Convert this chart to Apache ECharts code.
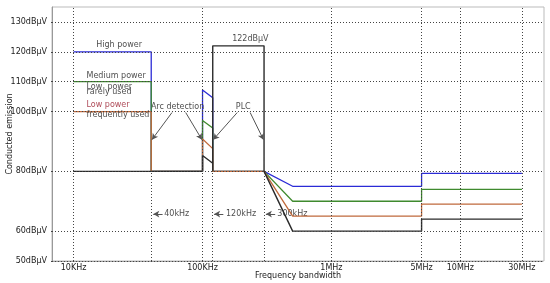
<!DOCTYPE html>
<html>
<head>
<meta charset="utf-8">
<script src="https://cdn.jsdelivr.net/npm/echarts@6/dist/echarts.min.js"></script>
<style>
html, body {margin: 0; padding: 0; background: #fff;}
#container {width: 550px; height: 283px;}
</style>
</head>
<body>
<div id="container"></div>
<script>
// tick values (y in dBuV, x in Hz)
var yTicks = [50, 60, 80, 100, 110, 120, 130];
var xTicks = [1e4, 1e5, 1e6, 5e6, 1e7, 3e7];
var xTickNames = ['10KHz', '100KHz', '1MHz', '5MHz', '10MHz', '30MHz'];
var partialGrid = [4e4, 1.2e5, 3e5];

// limit lines [freq, dBuV]
var highPower = [[1e4, 120], [4e4, 120], [4e4, 80], [1e5, 80], [1e5, 107.2], [1.2e5, 104.6], [1.2e5, 80], [3e5, 80], [5e5, 75], [5e6, 75], [5e6, 79.3], [3e7, 79.3]];
var mediumPower = [[1e4, 110], [4e4, 110], [4e4, 80], [1e5, 80], [1e5, 97], [1.2e5, 94.5], [1.2e5, 80], [3e5, 80], [5e5, 70], [5e6, 70], [5e6, 74], [3e7, 74]];
var lowRare = [[1e4, 100], [4e4, 100], [4e4, 80], [1e5, 80], [1e5, 90.8], [1.2e5, 87.6], [1.2e5, 80], [3e5, 80], [5e5, 65], [5e6, 65], [5e6, 69], [3e7, 69]];
var lowFrequent = [[1e4, 80], [1e5, 80], [1e5, 85.3], [1.2e5, 82.7], [1.2e5, 80], [1.2e5, 122], [3e5, 122], [3e5, 80], [5e5, 60], [5e6, 60], [5e6, 64], [3e7, 64]];

// annotation texts and where they sit
var noteTexts = ['High power', 'Medium power', 'Low  power', 'rarely used', 'Low power', 'frequently used', '122dBμV', 'Arc detection', 'PLC', '40kHz', '120kHz', '300kHz'];
var notePoints = [[15e3, 122.2], [12.6e3, 111.8], [12.6e3, 108.4], [12.6e3, 106.6], [12.6e3, 102.2], [12.6e3, 98.8], [2.35e5, 124.2], [6.4e4, 101.4], [2.07e5, 101.4], [5.05e4, 65.7], [1.52e5, 65.7], [3.8e5, 65.7]];
var noteAlign = ['left', 'left', 'left', 'left', 'left', 'left', 'center', 'center', 'center', 'left', 'left', 'left'];

// arrows [from, to]
var arrows = [
	[[5.8e4, 99.7], [4.05e4, 90.6]],
	[[7.4e4, 99.7], [9.9e4, 90.6]],
	[[1.86e5, 99.7], [1.21e5, 90.6]],
	[[2.34e5, 99.7], [2.97e5, 90.6]],
	[[4.9e4, 65.7], [4.15e4, 65.7]],
	[[1.45e5, 65.7], [1.23e5, 65.7]],
	[[3.66e5, 65.7], [3.1e5, 65.7]]
];

var FONT = 'DejaVu Sans';
var dotted = {color: '#444', width: 1, type: [1, 2]};

function xName(v) {
	for (var i = 0; i < xTicks.length; i++) {
		if (Math.abs(v - xTicks[i]) / xTicks[i] < 1e-6) return xTickNames[i];
	}
	return '';
}

function gridLines() {
	var data = [];
	yTicks.forEach(function (v) {
		if (v > 50) data.push({yAxis: v});
	});
	xTicks.forEach(function (v) {
		data.push({xAxis: v});
	});
	partialGrid.forEach(function (v) {
		data.push([{coord: [v, 50]}, {coord: [v, 80]}]);
	});
	return data;
}

function lineSeries(name, data, color, width) {
	return {
		name: name,
		type: 'line',
		data: data,
		symbol: 'none',
		animation: false,
		lineStyle: {color: color, width: width}
	};
}

function getOption() {
	var notes = noteTexts.map(function (t, i) {
		return {
			value: notePoints[i],
			label: {
				formatter: t,
				align: noteAlign[i],
				color: t === 'Low power' ? '#9a1c2c' : '#1a1a1a'
			}
		};
	});
	var arrowData = arrows.map(function (a) {
		return [{coord: a[0]}, {coord: a[1]}];
	});
	var option = {
		backgroundColor: '#fff',
		textStyle: {fontFamily: FONT},
		grid: {left: 52, right: 6, top: 7, bottom: 22, show: true, borderColor: '#bbb', borderWidth: 1, containLabel: false, outerBoundsMode: 'none'},
		xAxis: {
			type: 'log',
			min: 6800,
			max: 44.5e6,
			name: 'Frequency bandwidth',
			nameLocation: 'middle',
			nameGap: 11,
			nameMoveOverlap: false,
			nameTextStyle: {fontFamily: FONT, fontSize: 8, color: '#1a1a1a'},
			axisLine: {show: true, lineStyle: {color: '#444', width: 1, type: [1, 2]}},
			axisTick: {show: false},
			splitLine: {show: false},
			axisLabel: {
				customValues: xTicks,
				formatter: xName,
				fontFamily: FONT,
				fontSize: 8,
				color: '#1a1a1a',
				margin: 3,
				showMinLabel: true,
				showMaxLabel: true
			}
		},
		yAxis: {
			type: 'value',
			min: 50,
			max: 135,
			name: 'Conducted emission',
			nameLocation: 'middle',
			nameGap: 38,
			nameMoveOverlap: false,
			nameTextStyle: {fontFamily: FONT, fontSize: 8, color: '#1a1a1a'},
			axisLine: {show: true, lineStyle: {color: '#999', width: 1}},
			axisTick: {show: true, customValues: yTicks, length: 3, lineStyle: dotted},
			splitLine: {show: false},
			axisLabel: {
				customValues: yTicks,
				formatter: function (v) { return v + 'dBμV'; },
				fontFamily: FONT,
				fontSize: 8,
				color: '#1a1a1a',
				margin: 5
			}
		},
		series: [
			{
				name: 'grid',
				type: 'line',
				data: [],
				silent: true,
				animation: false,
				markLine: {
					silent: true,
					animation: false,
					symbol: ['none', 'none'],
					label: {show: false},
					lineStyle: dotted,
					data: gridLines()
				}
			},
			lineSeries('High power', highPower, '#2b2bd6', 1.3),
			lineSeries('Medium power', mediumPower, '#3f8a2e', 1.3),
			lineSeries('Low power rarely used', lowRare, '#c06a3c', 1.3),
			lineSeries('Low power frequently used', lowFrequent, '#2a2a2a', 1.4),
			{
				name: 'notes',
				type: 'scatter',
				symbolSize: 0,
				silent: true,
				animation: false,
				data: notes,
				label: {
					show: true,
					position: [0, 0],
					verticalAlign: 'middle',
					fontFamily: FONT,
					fontSize: 8
				},
				markLine: {
					silent: true,
					animation: false,
					symbol: ['none', 'arrow'],
					symbolSize: [5, 6],
					label: {show: false},
					lineStyle: {color: '#555', width: 1, type: 'solid'},
					itemStyle: {color: '#333'},
					data: arrowData
				}
			}
		]
	};
	return option;
}

var myChart = echarts.init(document.getElementById('container'), null, {renderer: 'canvas'});
myChart.setOption(getOption());
</script>
</body>
</html>
